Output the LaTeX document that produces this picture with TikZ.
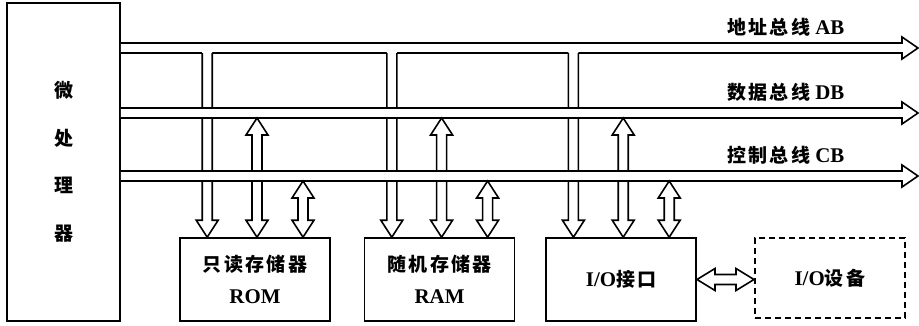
\documentclass[tikz,border=0pt]{standalone}
\usepackage{fontspec}
\setmainfont{Liberation Serif}[Scale=1.1]
\newfontfamily\cjk{Noto Sans CJK SC}[LetterSpace=12]
\usetikzlibrary{calc,positioning}
\newcommand{\zh}[1]{{\cjk #1}}

% hollow bus running right, #1 start, #2 tip
\newcommand{\busarrow}[2]{%
  \path[busline] let \p1=(#1),\p2=(#2) in
    (\x1,\y1+5) -- (\x2-16,\y1+5) -- (\x2-16,\y1+11) -- (\x2,\y1)
    -- (\x2-16,\y1-11) -- (\x2-16,\y1-5) -- (\x1,\y1-5);}
% branch off the address bus, #1 tip on box, #2 bus
\newcommand{\addrdrop}[2]{%
  \fill[white] let \p1=(#1),\p2=(#2) in
    (\x1-5,\y2) -- (\x1-5,\y1+17) -- (\x1-11,\y1+17) -- (\p1)
    -- (\x1+11,\y1+17) -- (\x1+5,\y1+17) -- (\x1+5,\y2) -- cycle;
  \draw[busedge] let \p1=(#1),\p2=(#2) in
    (\x1-5,\y2-5) -- (\x1-5,\y1+17) -- (\x1-11,\y1+17) -- (\p1)
    -- (\x1+11,\y1+17) -- (\x1+5,\y1+17) -- (\x1+5,\y2-5);}
% two-way link down to a box, #1 tip on box, #2 bus
\newcommand{\duplex}[2]{%
  \path[busline] let \p1=(#1),\p2=(#2) in
    (\x1,\y2-5) -- (\x1+11,\y2-22) -- (\x1+5,\y2-22) -- (\x1+5,\y1+17)
    -- (\x1+11,\y1+17) -- (\p1) -- (\x1-11,\y1+17) -- (\x1-5,\y1+17)
    -- (\x1-5,\y2-22) -- (\x1-11,\y2-22) -- cycle;}
% two-way link sideways, #1 left tip, #2 right tip
\newcommand{\hduplex}[2]{%
  \path[busline] let \p1=(#1),\p2=(#2) in
    (\p1) -- (\x1+18,\y1+11) -- (\x1+18,\y1+5) -- (\x2-18,\y1+5)
    -- (\x2-18,\y1+11) -- (\x2,\y1) -- (\x2-18,\y1-11) -- (\x2-18,\y1-5)
    -- (\x1+18,\y1-5) -- (\x1+18,\y1-11) -- cycle;}

\begin{document}
\begin{tikzpicture}[
    x=1pt,y=1pt,
    busedge/.style={draw=black,line width=1.6pt,line join=miter},
    busline/.style={busedge,fill=white},
    unit/.style={draw=black,line width=1.6pt,align=center,inner sep=0pt,
      minimum width=150,minimum height=83,
      font=\bfseries\fontsize{19}{32}\selectfont},
    buslabel/.style={anchor=west,inner sep=0pt,
      font=\bfseries\fontsize{19}{22}\selectfont}
  ]
  \path[use as bounding box] (0,0) rectangle (919,325);

  \node[unit,minimum width=113,minimum height=318,
    font=\bfseries\fontsize{19}{47.5}\selectfont] (cpu) at (63.5,163)
    {\zh{微}\\\zh{处}\\\zh{理}\\\zh{器}};
  \node[unit] (rom) at (255,45.5) {\zh{只读存储器}\\ROM};
  \node[unit,right=33 of rom] (ram) {\zh{随机存储器}\\RAM};
  \node[unit,right=30 of ram] (ioif) {I/O\zh{接口}};
  \node[unit,dashed,dash pattern=on 6pt off 4pt,minimum height=80,
    anchor=north west] (iodev) at ($(ioif.north east)+(57,0)$) {I/O\zh{设备}};

  \coordinate (abtip) at (918,277);
  \coordinate (dbtip) at (918,212);
  \coordinate (cbtip) at (918,149);

  % address bus and its branches
  \busarrow{cpu.east |- abtip}{abtip}
  \foreach \b in {rom,ram,ioif}
    \addrdrop{$(\b.north west)+(28,0)$}{abtip};

  % data bus
  \busarrow{cpu.east |- dbtip}{dbtip}
  \foreach \b in {rom,ram,ioif}
    \duplex{$(\b.north)+(2,0)$}{dbtip};

  % control bus
  \busarrow{cpu.east |- cbtip}{cbtip}
  \foreach \b in {rom,ram,ioif}
    \duplex{$(\b.north)+(48,0)$}{cbtip};

  \hduplex{ioif.east}{ioif.east -| iodev.west}

  \node[buslabel] (ablabel) at ($(abtip)+(-191,21)$) {\zh{地址总线} AB};
  \node[buslabel] (dblabel) at ($(dbtip)+(-191,21)$) {\zh{数据总线} DB};
  \node[buslabel] (cblabel) at ($(cbtip)+(-191,21)$) {\zh{控制总线} CB};
\end{tikzpicture}
\end{document}
